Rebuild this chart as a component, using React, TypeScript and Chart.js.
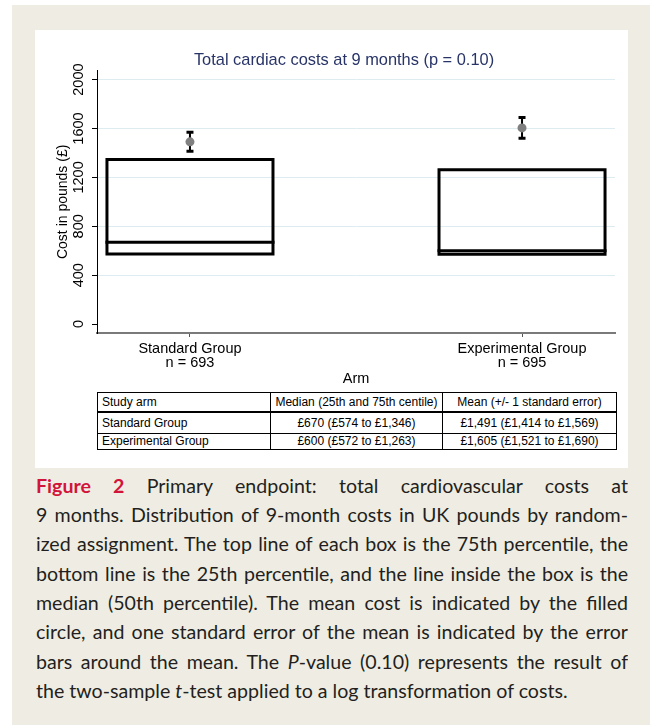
import React, { useEffect, useRef } from "react";
import { Chart, registerables } from "chart.js";

Chart.register(...registerables);

// ---------- data ----------
const groups = ["Standard Group", "Experimental Group"];
const groupN = [693, 695];
const q1 = [574, 572];
const medians = [670, 600];
const q3 = [1346, 1263];
const means = [1491, 1605];
const seLow = [1414, 1521];
const seHigh = [1569, 1690];
const yTicks = [0, 400, 800, 1200, 1600, 2000];
const chartTitle = "Total cardiac costs at 9 months (p = 0.10)";
const yTitle = "Cost in pounds (£)";
const xTitle = "Arm";
const tableHeaders = ["Study arm", "Median (25th and 75th centile)", "Mean (+/- 1 standard error)"];

const BOX_HALF = 0.25;
const FONT = "'Liberation Sans', Arial, Helvetica, sans-serif";
const CAPTION_FONT = "Lato, 'Open Sans', sans-serif";

const money = (v: number) => "£" + v.toLocaleString("en-GB");

function ChartBox() {
  const ref = useRef<HTMLCanvasElement | null>(null);
  useEffect(() => {
    if (!ref.current) return;
    Chart.defaults.font.family = FONT;
    const datasets: any[] = [];
    groups.forEach((_, i) => {
      // mean dot (on top)
      datasets.push({
        data: [{ x: i, y: means[i] }],
        showLine: false,
        pointRadius: 4.5,
        pointStyle: "circle",
        backgroundColor: "#808080",
        borderWidth: 0,
        order: 0,
      });
      // error bar caps
      datasets.push({
        data: [
          { x: i, y: seLow[i] },
          { x: i, y: seHigh[i] },
        ],
        showLine: false,
        pointStyle: "line",
        pointRadius: 3.5,
        borderColor: "#000",
        borderWidth: 3,
        order: 1,
      });
      // error bar stem
      datasets.push({
        data: [
          { x: i, y: seLow[i] },
          { x: i, y: seHigh[i] },
        ],
        showLine: true,
        pointRadius: 0,
        borderColor: "#000",
        borderWidth: 2,
        order: 1,
      });
      // median line
      datasets.push({
        data: [
          { x: i - BOX_HALF, y: medians[i] },
          { x: i + BOX_HALF, y: medians[i] },
        ],
        showLine: true,
        pointRadius: 0,
        borderColor: "#000",
        borderWidth: 3,
        borderCapStyle: "square",
        order: 2,
      });
      // box (25th - 75th)
      datasets.push({
        data: [
          { x: i - BOX_HALF, y: q1[i] },
          { x: i + BOX_HALF, y: q1[i] },
          { x: i + BOX_HALF, y: q3[i] },
          { x: i - BOX_HALF, y: q3[i] },
          { x: i - BOX_HALF, y: q1[i] },
        ],
        showLine: true,
        pointRadius: 0,
        borderColor: "#000",
        borderWidth: 3,
        borderJoinStyle: "miter",
        borderCapStyle: "square",
        backgroundColor: "transparent",
        fill: false,
        order: 3,
      });
    });

    const chart = new Chart(ref.current, {
      type: "scatter",
      data: { datasets },
      options: {
        animation: false,
        responsive: false,
        devicePixelRatio: 1,
        layout: { padding: { left: 38, right: 13, top: 0, bottom: 0 } },
        plugins: {
          legend: { display: false },
          tooltip: { enabled: false },
          title: {
            display: true,
            text: chartTitle,
            color: "#283468",
            font: { size: 16.4, weight: "normal", lineHeight: 1.2, family: FONT },
            padding: { top: 21, bottom: 0 },
          },
        },
        scales: {
          x: {
            type: "linear",
            min: -0.28,
            max: 1.28,
            afterBuildTicks: (s: any) => {
              s.ticks = groups.map((_, i) => ({ value: i }));
            },
            afterFit: (s: any) => {
              s.height = 57;
            },
            ticks: {
              autoSkip: false,
              maxRotation: 0,
              minRotation: 0,
              padding: 5,
              color: "#000",
              font: { size: 14.5, lineHeight: 0.97 },
              callback: (v: any) => {
                const i = Math.round(Number(v));
                return [groups[i], `n = ${groupN[i]}`];
              },
            },
            grid: {
              drawOnChartArea: false,
              drawTicks: true,
              tickLength: 4,
              tickColor: "#555",
              tickWidth: 1,
            },
            border: { color: "#7a7a7a", width: 2 },
            title: {
              display: true,
              text: xTitle,
              color: "#000",
              font: { size: 14.5, lineHeight: 1.2 },
              padding: { top: 0, bottom: 2.3 },
            },
          },
          y: {
            type: "linear",
            min: -73,
            max: 2073,
            afterBuildTicks: (s: any) => {
              s.ticks = yTicks.map((v) => ({ value: v }));
            },
            afterFit: (s: any) => {
              s.width = 24;
            },
            ticks: {
              autoSkip: false,
              minRotation: 90,
              maxRotation: 90,
              crossAlign: "center",
              padding: -3,
              color: "#000",
              font: { size: 14.5 },
              callback: (v: any) => String(v),
            },
            grid: {
              color: (ctx: any) => (ctx.tick && ctx.tick.value === 0 ? "rgba(0,0,0,0)" : "#dcecf1"),
              lineWidth: 1,
              drawTicks: true,
              tickLength: 5,
              tickColor: "#000",
              tickWidth: 1,
            },
            border: { color: "#000", width: 1 },
            title: {
              display: true,
              text: yTitle,
              color: "#000",
              font: { size: 14, lineHeight: 1.2 },
              padding: { top: -18.4, bottom: 0 },
            },
          },
        },
      } as any,
    });
    return () => chart.destroy();
  }, []);
  return (
    <canvas
      ref={ref}
      width={593}
      height={360}
      style={{ position: "absolute", left: 35, top: 30, width: 593, height: 360 }}
    />
  );
}

function StatsTable() {
  const rows = groups.map((g, i) => [
    g,
    `${money(medians[i])} (${money(q1[i])} to ${money(q3[i])})`,
    `${money(means[i])} (${money(seLow[i])} to ${money(seHigh[i])})`,
  ]);
  const colW = [173, 172, 174];
  const rowH = [19.5, 21.5, 15.5];
  const all = [tableHeaders, ...rows];
  return (
    <table
      style={{
        position: "absolute",
        left: 97,
        top: 392,
        width: 519,
        borderCollapse: "collapse",
        tableLayout: "fixed",
        fontFamily: FONT,
        fontSize: 12,
        color: "#000",
      }}
    >
      <colgroup>
        {colW.map((w, i) => (
          <col key={i} style={{ width: w }} />
        ))}
      </colgroup>
      <tbody>
        {all.map((r, ri) => (
          <tr key={ri} style={{ height: rowH[ri] }}>
            {r.map((c, ci) => (
              <td
                key={ci}
                style={{
                  border: "1.5px solid #000",
                  borderBottomWidth: ri === 0 ? 2.5 : 1.5,
                  padding: ci === 0 ? "0 4px" : "0 2px",
                  textAlign: ci === 0 ? "left" : "center",
                  verticalAlign: "middle",
                  lineHeight: "12px",
                  whiteSpace: "nowrap",
                  overflow: "hidden",
                }}
              >
                {c}
              </td>
            ))}
          </tr>
        ))}
      </tbody>
    </table>
  );
}

function Caption() {
  const lineStyle = (last: boolean): React.CSSProperties => ({
    height: 29.35,
    lineHeight: "29.35px",
    textAlign: last ? "left" : "justify",
    textAlignLast: last ? "left" : "justify",
    overflow: "hidden",
  } as any);
  const lines: React.ReactNode[] = [
    <>
      <span style={{ color: "#d2143a", fontWeight: 700 }}>Figure 2</span> Primary endpoint: total cardiovascular costs at
    </>,
    <>9 months. Distribution of 9-month costs in UK pounds by random-</>,
    <>ized assignment. The top line of each box is the 75th percentile, the</>,
    <>bottom line is the 25th percentile, and the line inside the box is the</>,
    <>median (50th percentile). The mean cost is indicated by the filled</>,
    <>circle, and one standard error of the mean is indicated by the error</>,
    <>
      bars around the mean. The <i>P</i>-value (0.10) represents the result of
    </>,
    <>
      the two-sample <i>t</i>-test applied to a log transformation of costs.
    </>,
  ];
  return (
    <div
      style={{
        position: "absolute",
        left: 36,
        top: 470.5,
        width: 592,
        fontFamily: CAPTION_FONT,
        fontSize: 19.6,
        color: "#231f20",
      }}
    >
      {lines.map((l, i) => (
        <div key={i} style={lineStyle(i === lines.length - 1)}>
          {l}
        </div>
      ))}
    </div>
  );
}

export default function App() {
  return (
    <div style={{ position: "absolute", left: 0, top: 0, width: 654, height: 725, background: "#fff", overflow: "hidden" }}>
      <div style={{ position: "absolute", left: 12, top: 5, width: 638, height: 720, background: "#efede3" }} />
      <div style={{ position: "absolute", left: 35, top: 30, width: 593, height: 438, background: "#fff" }} />
      <ChartBox />
      <StatsTable />
      <Caption />
    </div>
  );
}
